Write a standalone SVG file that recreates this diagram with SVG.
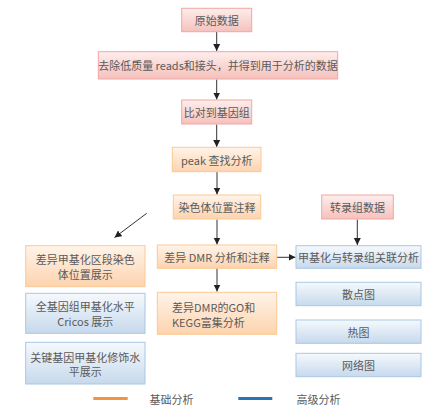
<svg xmlns="http://www.w3.org/2000/svg" width="435" height="416" viewBox="0 0 435 416">
<style>
text{font-family:"Noto Sans CJK SC","Liberation Sans",sans-serif;font-size:11px;fill:#5a5a5a;text-anchor:middle;dominant-baseline:central}
.red{fill:url(#gr);stroke:#f2a6a3;stroke-width:1}
.org{fill:url(#go);stroke:#fcc992;stroke-width:1}
.blu{fill:url(#gb);stroke:#a9c7e4;stroke-width:1}
.ln{stroke:#333;stroke-width:1;fill:none}
</style>
<defs>
<linearGradient id="gr" x1="0" y1="0" x2="0" y2="1"><stop offset="0" stop-color="#fdeeec"/><stop offset="1" stop-color="#f5c1bc"/></linearGradient>
<linearGradient id="go" x1="0" y1="0" x2="0" y2="1"><stop offset="0" stop-color="#fff4ea"/><stop offset="1" stop-color="#fdd3ae"/></linearGradient>
<linearGradient id="gb" x1="0" y1="0" x2="0" y2="1"><stop offset="0" stop-color="#f6f9fd"/><stop offset="1" stop-color="#c6d9ec"/></linearGradient>
<marker id="ah" markerWidth="8" markerHeight="8" refX="7" refY="4" orient="auto" markerUnits="userSpaceOnUse"><path d="M0,0.5 L7,4 L0,7.5 Z" fill="#222"/></marker>
</defs>
<g id="connectors">
<line class="ln" x1="216.7" y1="32" x2="216.7" y2="51" marker-end="url(#ah)"/>
<line class="ln" x1="216.7" y1="79.5" x2="216.7" y2="99.5" marker-end="url(#ah)"/>
<line class="ln" x1="216.7" y1="124.5" x2="216.7" y2="147" marker-end="url(#ah)"/>
<line class="ln" x1="217" y1="172" x2="217" y2="194.5" marker-end="url(#ah)"/>
<line class="ln" x1="217" y1="219.5" x2="217" y2="244.5" marker-end="url(#ah)"/>
<line class="ln" x1="217" y1="268.5" x2="217" y2="291.5" marker-end="url(#ah)"/>
<line class="ln" x1="357.3" y1="219.5" x2="357.3" y2="245" marker-end="url(#ah)"/>
<line class="ln" x1="277" y1="257.3" x2="295.5" y2="257.3" marker-end="url(#ah)"/>
<line class="ln" x1="146.7" y1="213.3" x2="114.5" y2="237.5" marker-end="url(#ah)"/>
</g>
<g id="n1"><rect class="red" x="181.7" y="8.3" width="70" height="23.4"/><text x="216.7" y="20">原始数据</text></g>
<g id="n2"><rect class="red" x="98.3" y="51.7" width="239.4" height="27.3"/><text x="218" y="65.3">去除低质量 reads和接头，并得到用于分析的数据</text></g>
<g id="n3"><rect class="red" x="181.7" y="100" width="70" height="24"/><text x="216.7" y="112">比对到基因组</text></g>
<g id="n4"><rect class="org" x="172.3" y="147.3" width="88.7" height="24.4"/><text x="216.7" y="159.5">peak  查找分析</text></g>
<g id="n5"><rect class="org" x="173.3" y="195" width="87.4" height="24"/><text x="217" y="207">染色体位置注释</text></g>
<g id="n6"><rect class="red" x="321.7" y="195" width="71.6" height="24"/><text x="357.5" y="207">转录组数据</text></g>
<g id="n7"><rect class="org" x="157.3" y="245" width="119.4" height="23.3"/><text x="217" y="257">差异 DMR 分析和注释</text></g>
<g id="n8"><rect class="blu" x="296" y="245.7" width="125" height="22.6"/><text x="358.5" y="257">甲基化与转录组关联分析</text></g>
<g id="n9"><rect class="org" x="157.3" y="292.3" width="119.4" height="42"/><text x="172" y="306.5" style="text-anchor:start">差异DMR的GO和</text><text x="172" y="321.5" style="text-anchor:start">KEGG富集分析</text></g>
<g id="n10"><rect class="org" x="25.7" y="245.7" width="119.3" height="41"/><text x="85.3" y="259">差异甲基化区段染色</text><text x="85.3" y="273.5">体位置展示</text></g>
<g id="n11"><rect class="blu" x="25.7" y="293.3" width="119.3" height="40"/><text x="85.3" y="306">全基因组甲基化水平</text><text x="85.3" y="320.7">Cricos  展示</text></g>
<g id="n12"><rect class="blu" x="25.7" y="342.3" width="119.3" height="41.7"/><text x="85.3" y="356.5">关键基因甲基化修饰水</text><text x="85.3" y="371.2">平展示</text></g>
<g id="n13"><rect class="blu" x="296" y="282.3" width="125" height="23.4"/><text x="358.5" y="294">散点图</text></g>
<g id="n14"><rect class="blu" x="296" y="320" width="125" height="23.3"/><text x="358.5" y="331.7">热图</text></g>
<g id="n15"><rect class="blu" x="296" y="353.3" width="125" height="23.4"/><text x="358.5" y="365">网络图</text></g>
<g id="legend">
<rect x="93.3" y="397" width="34.4" height="3" fill="#f7923f"/>
<text x="171.5" y="399">基础分析</text>
<rect x="238.3" y="397" width="34" height="3" fill="#2874b5"/>
<text x="318.5" y="399">高级分析</text>
</g>
</svg>
